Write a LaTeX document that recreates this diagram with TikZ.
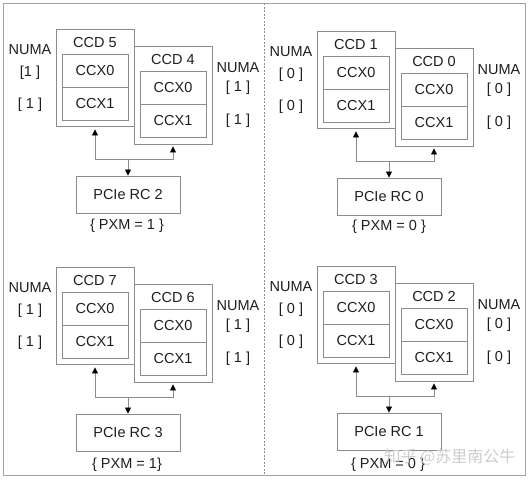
\documentclass[tikz,border=0pt]{standalone}
\usepackage{fontspec}
\setmainfont{Liberation Sans}
\newfontfamily\cjkfont{Noto Sans CJK SC}
\usetikzlibrary{arrows.meta}
\definecolor{boxgray}{HTML}{8C8C8C}
\definecolor{txt}{HTML}{1E1E1E}
\tikzset{
 every node/.style={font=\fontsize{14.5}{17}\selectfont, text=txt},
 outerbox/.style={draw=boxgray, line width=0.9pt, minimum width=78pt, minimum height=97pt, inner sep=0pt},
 innerbox/.style={draw=boxgray, line width=0.9pt, minimum width=66pt, minimum height=33pt, inner sep=0pt},
 pciebox/.style={draw=boxgray, line width=0.9pt, minimum width=104pt, minimum height=37pt, inner sep=0pt},
 lbl/.style={inner sep=0pt},
 link/.style={draw=boxgray, line width=0.8pt},
 tip/.style={link, -{Triangle[width=6pt,length=6pt,color=black]}},
}
\newcommand{\ccdquad}[7]{%
\begin{scope}[shift={#2}]
 \node[outerbox] (#1a) at (95,77.5) {};
 \node[lbl] (#1at) at (95,43) {CCD #3};
 \node[innerbox] (#1a0) at (95,70.5) {CCX0};
 \node[innerbox] (#1a1) at (95,103.5) {CCX1};
 \node[outerbox, minimum height=98pt] (#1b) at (173,95) {};
 \node[lbl] (#1bt) at (173,60) {CCD #4};
 \node[innerbox] (#1b0) at (173,87.5) {CCX0};
 \node[innerbox] (#1b1) at (173,120.5) {CCX1};
 \node[lbl] (#1nl) at (30,50) {NUMA};
 \node[lbl] (#1nl1) at (30,73) {#5};
 \node[lbl] (#1nl2) at (30,105) {#6};
 \node[lbl] (#1nr) at (238,68) {NUMA};
 \node[lbl] (#1nr1) at (238,88) {#6};
 \node[lbl] (#1nr2) at (238,121) {#6};
 \node[pciebox] (#1p) at (128,194.5) {PCIe RC #7};
 \coordinate (#1j) at (128,159);
 \draw[tip, shorten >=3pt] (#1j) -| (#1a.south);
 \draw[tip, shorten >=2pt] (#1j) -| (#1b.south);
 \draw[tip] (#1j) -- (#1p.north);
\end{scope}}
\begin{document}
\begin{tikzpicture}[x=1pt,y=-1pt]
\useasboundingbox (0,0) rectangle (528,480);
\draw[boxgray!80, line width=0.8pt] (3,3) rectangle (525,475);
\coordinate (dtop) at (264,3);
\coordinate (dbot) at (264,475);
\draw[boxgray, dash pattern=on 2pt off 1.5pt, line width=0.7pt] (dtop) -- (dbot);
\ccdquad{tl}{(0,0)}{5}{4}{[1 ]}{[ 1 ]}{2}
\ccdquad{tr}{(261,2)}{1}{0}{[ 0 ]}{[ 0 ]}{0}
\ccdquad{bl}{(0,238)}{7}{6}{[ 1 ]}{[ 1 ]}{3}
\ccdquad{br}{(261,237)}{3}{2}{[ 0 ]}{[ 0 ]}{1}
\node[lbl] (tlx) at (127,226) {\{ PXM = 1 \}};
\node[lbl] (trx) at (389,227) {\{ PXM = 0 \}};
\node[lbl] (blx) at (127,465) {\{ PXM = 1\}};
\node[lbl] (brx) at (388,465) {\{ PXM = 0 \}};
\node[lbl, font=\cjkfont\fontsize{16}{18}\selectfont, text=gray!40] (wm) at (450,457) {知乎 @苏里南公牛};
\end{tikzpicture}
\end{document}
